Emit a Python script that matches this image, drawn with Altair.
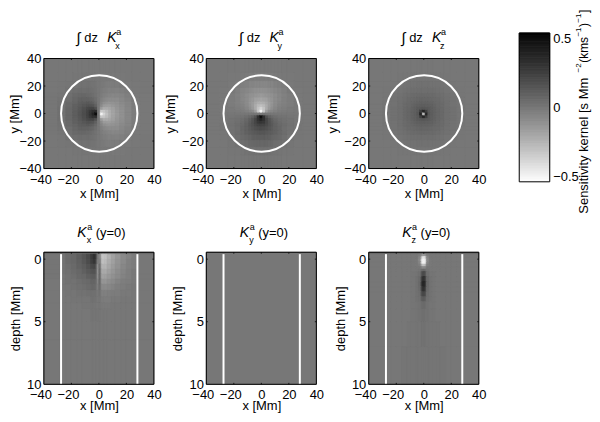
import altair as alt
import numpy as np
import pandas as pd

FONT = "Liberation Sans"
X_TICKS = [-40, -20, 0, 20, 40]
Y_TICKS = [-40, -20, 0, 20, 40]
D_TICKS = [0, 5, 10]
XDOM = [-40, 40]
DDOM = [10, -0.55]
CDOM = [-0.54, 0.54]

# cell edges of the map panels, Mm
EDGES = [-40, -30, -24, -19, -15, -12, -9, -7, -5, -3, -1, 1, 3, 5, 7, 9, 12, 15, 19, 24, 30, 40]

# one quadrant of the horizontal/vertical map, hundredths; rows outward from the axis
QUAD = [
    [0, 50, 38, 30, 24, 19, 14.5, 11, 7, 2.5, .5],
    [0, 33, 32, 28, 23, 18, 14, 11, 7, 2.5, .5],
    [0, 16, 22, 22, 20, 17, 13, 10, 7, 2.5, .5],
    [0, 9, 15, 16, 16, 14, 12, 9.5, 6, 2, .5],
    [0, 6, 10, 12, 13, 12, 11, 8, 6, 2, .5],
    [0, 4, 6.5, 8, 9, 9, 9, 7, 4.5, 1.5, .5],
    [0, 2, 4, 5, 6, 7, 6.5, 5.5, 3.5, 1, .5],
    [0, 1.5, 2.5, 3.5, 4.5, 4, 4.5, 3.5, 2, .5, 0],
    [0, 1, 1.5, 2, 2.5, 2, 2, 1, .7, .3, 0],
    [0, .3, .5, .6, .7, .7, .5, .3, 0, 0, 0],
    [0, 0, 0, 0, 0, 0, 0, 0, 0, 0, 0],
]
# one quadrant of the vertical-component map
ZQUAD = [
    [-28, 38, 14, 11, 9, 7.5, 6, 4, 2.5, 1, 0],
    [38, 25, 13, 10.5, 9, 7.5, 6, 4, 2.5, 1, 0],
    [14, 13, 12, 10, 8.5, 7, 5.5, 4, 2.5, 1, 0],
    [11, 10.5, 10, 9, 8, 6.5, 5, 3.5, 2, 1, 0],
    [9, 9, 8.5, 8, 7, 6, 5, 3.5, 2, 1, 0],
    [7.5, 7.5, 7, 6.5, 6, 5.5, 4.5, 3, 2, .5, 0],
    [6, 6, 5.5, 5, 5, 4.5, 3.5, 2.5, 1.5, .5, 0],
    [4, 4, 4, 3.5, 3.5, 3, 2.5, 1.5, 1, .3, 0],
    [2.5, 2.5, 2.5, 2, 2, 2, 1.5, 1, .5, 0, 0],
    [1, 1, 1, 1, 1, .5, .5, .3, 0, 0, 0],
    [0, 0, 0, 0, 0, 0, 0, 0, 0, 0, 0],
]

# depth slices at y=0
SX_EDGES = [-40, -28, -24, -20, -16, -12, -9, -6, -4, -2, -1, 0, 1, 2, 4, 6, 9, 12, 16, 20, 24, 28, 40]
SX_DEPTH = [-0.55, -0.4, 0, .4, .8, 1.2, 1.6, 2, 2.5, 3, 3.5, 4, 5, 6.5, 10]
SX_ROWS = [
    [8] * 22,
    [1, 2, 5, 7, 11, 15, 20, 27, 33, 14, 0, -5, -12, -32, -30, -24, -18, -13, -8, -5, -2, 0],
    [1, 2, 5, 7, 10, 14, 19, 25, 30, 11, -3, -3, -8, -30, -28, -22, -17, -12, -8, -4, -2, 0],
    [1, 2, 4, 6, 9, 12, 16, 20, 22, 4, -10, 5, -5, -25, -25, -20, -15, -11, -7, -4, -2, 0],
    [1, 2, 3, 5, 7, 10, 13, 15, 16, 3, -12, 8, -3, -21, -21, -17, -13, -9, -6, -3, -1, 0],
    [1, 1, 2, 4, 6, 7, 10, 11, 12, 2, -10, 8, -2, -18, -17, -14, -11, -8, -5, -3, -1, 0],
    [0, 1, 2, 2, 4, 5, 6, 8, 8, 2, -7, 8, -1, -13, -13, -10, -8, -5, -3, -2, -1, 0],
    [0, 1, 1, 2, 3, 4, 5, 6, 6, 1, -3, 5, 0, -8, -8, -7, -5, -3, -2, -1, 0, 0],
    [0, 0, 1, 1, 2, 2, 3, 3, 3, 1, 0, 2, 0, -4, -4, -3, -2, -2, -1, -1, 0, 0],
    [0, 0, 0, 1, 1, 1, 1, 2, 2, 1, 0, 1, 0, -2, -2, -2, -1, -1, 0, 0, 0, 0],
    [0, 0, 0, 0, 0, 1, 1, 1, 1, 0, 0, 1, 0, -1, -1, -1, 0, 0, 0, 0, 0, 0],
    [0, 0, 0, 0, 0, 0, 0, 1, 1, 1, 1, 1, 1, 0, 0, 0, 0, 0, 0, 0, 0, 0],
    [0] * 22,
    [0] * 22,
]
SZ_DEPTH = [-0.55, -0.4, -0.2, 0, .2, .4, .6, .8, 1, 1.4, 1.8, 2.2, 2.6, 3, 3.4, 4, 5, 7, 10]
# columns outward from x=0, mirrored
SZ_ROWS = [
    [8, 8, 8, 8, 8, 8, 8, 8, 8, 8, 8],
    [-15, -10, -2, 0, 0, 0, 0, 0, 0, 0, 0],
    [-45, -30, -6, 0, 0, 0, 0, 0, 0, 0, 0],
    [-50, -40, -8, -1, 0, 0, 0, 0, 0, 0, 0],
    [-50, -38, -6, -1, 0, 0, 0, 0, 0, 0, 0],
    [-30, -20, -3, -1, 0, 0, 0, 0, 0, 0, 0],
    [-8, -5, 0, 0, 0, 0, 0, 0, 0, 0, 0],
    [6, 4, 1, 0, 0, 0, 0, 0, 0, 0, 0],
    [20, 13, 3, 1, 1, 0, 0, 0, 0, 0, 0],
    [32, 22, 5, 2, 1, 0, 0, 0, 0, 0, 0],
    [38, 26, 6, 2, 1, 0, 0, 0, 0, 0, 0],
    [32, 22, 5, 2, 1, 0, 0, 0, 0, 0, 0],
    [22, 16, 4, 2, 1, 0, 0, 0, 0, 0, 0],
    [12, 9, 3, 2, 1, 0, 0, 0, 0, 0, 0],
    [5, 4, 2, 1, 1, 0, 0, 0, 0, 0, 0],
    [3, 2, 2, 1, 1, 0, 0, 0, 0, 0, 0],
    [2, 2, 1, 1, 1, 1, 0, 0, 0, 0, 0],
    [1, 1, 1, 1, 1, 1, 1, 0, 0, 0, 0],
]
CB_EDGES = [round(-0.54 + 0.02 * i, 2) for i in range(55)]


def map_cells(kind):
    out = []
    for i in range(21):
        for j in range(21):
            a, b = abs(i - 10), abs(j - 10)
            if kind == "x":
                v = QUAD[b][a] * (1 if i < 10 else -1)
            elif kind == "y":
                v = QUAD[a][b] * (1 if j < 10 else -1)
            else:
                v = ZQUAD[b][a]
            out.append(dict(x=EDGES[i], x2=EDGES[i + 1], y=EDGES[j], y2=EDGES[j + 1], v=v / 100))
    return pd.DataFrame(out)


def slice_cells(rows, depth):
    out = []
    for r, row in enumerate(rows):
        full = list(row) if len(row) == 22 else list(row[::-1]) + list(row)
        for i, v in enumerate(full):
            out.append(dict(x=SX_EDGES[i], x2=SX_EDGES[i + 1], y=depth[r], y2=depth[r + 1], v=v / 100))
    return pd.DataFrame(out)


ONE = pd.DataFrame({"a": [0]})
CSCALE = alt.Scale(domain=CDOM, range=["#ffffff", "#000000"])
NEG_SHIFT = {"condition": {"test": "datum.value<0", "value": -3.5}, "value": 0}


def txt(s, x, y, size=13, style="normal", angle=0):
    return alt.Chart(ONE).mark_text(
        text=s, font=FONT, fontSize=size, fontStyle=style, align="left",
        baseline="alphabetic", angle=angle, color="black",
    ).encode(x=alt.value(x), y=alt.value(y))


def panel(df, ydom, yticks, ytitle, xlab_pad=5, xt_pad=1, tpad=4, extra=()):
    xs = alt.Scale(domain=XDOM, nice=False, zero=False)
    ys = alt.Scale(domain=ydom, nice=False, zero=False)
    xm = alt.X("x:Q", scale=xs, axis=alt.Axis(
        values=X_TICKS, title="x [Mm]", grid=False, ticks=False, domain=False,
        labelPadding=xlab_pad, titlePadding=xt_pad, labelOffset=NEG_SHIFT, labelFlush=False, labelOverlap=False))
    ym = alt.Y("y:Q", scale=ys, axis=alt.Axis(
        values=yticks, title=ytitle, grid=False, ticks=False, domain=False,
        labelPadding=3, titlePadding=tpad, labelFlush=False, labelOverlap=False))
    ground = alt.Chart(pd.DataFrame({"x": [XDOM[0]], "x2": [XDOM[1]], "y": [ydom[0]], "y2": [ydom[1]], "v": [0.0]})).mark_rect().encode(
        x=xm, x2="x2:Q", y=ym, y2="y2:Q", color=alt.Color("v:Q", scale=CSCALE, legend=None))
    base = alt.Chart(df).mark_rect(strokeWidth=0.8).encode(
        x=xm, x2="x2:Q", y=ym, y2="y2:Q",
        color=alt.Color("v:Q", scale=CSCALE, legend=None),
        stroke=alt.Stroke("v:Q", scale=CSCALE, legend=None),
    )
    ylo, yhi = ydom[0], ydom[1]
    tx = 1.1
    ty = abs(yhi - ylo) / 110 * 1.5 if abs(yhi - ylo) > 20 else 0.116
    sgn = 1 if yhi > ylo else -1
    vt = pd.DataFrame(
        [dict(x=t, y=ylo, y2=ylo + sgn * ty) for t in X_TICKS[1:-1]]
        + [dict(x=t, y=yhi, y2=yhi - sgn * ty) for t in X_TICKS[1:-1]])
    yin = [t for t in yticks if min(ydom) < t < max(ydom)]
    ht = pd.DataFrame(
        [dict(y=t, x=-40, x2=-40 + tx) for t in yin] + [dict(y=t, x=40, x2=40 - tx) for t in yin])
    t1 = alt.Chart(vt).mark_rule(color="black", strokeWidth=0.8).encode(x=xm, y=ym, y2="y2:Q")
    t2 = alt.Chart(ht).mark_rule(color="black", strokeWidth=0.8).encode(x=xm, x2="x2:Q", y=ym)
    frame = alt.Chart(pd.DataFrame({"x": [XDOM[0]], "x2": [XDOM[1]], "y": [ydom[0]], "y2": [ydom[1]]})).mark_rect(
        fillOpacity=0, stroke="black", strokeWidth=1).encode(x=xm, x2="x2:Q", y=ym, y2="y2:Q")
    ring_layers = []
    for e in extra:
        if e == "circle":
            ring_layers.append(alt.Chart(pd.DataFrame({"x": [0.25], "y": [0]})).mark_point(
                filled=False, stroke="white", strokeWidth=2, size=5868, opacity=1).encode(x=xm, y=ym))
        else:
            ring_layers.append(alt.Chart(pd.DataFrame({"x": [-27.5, 28], "y": [-0.4, -0.4], "y2": [10, 10]})).mark_rule(
                color="white", strokeWidth=2).encode(x=xm, y=ym, y2="y2:Q"))
    return [ground, base] + ring_layers + [t1, t2, frame]


def top_title(sub):
    return [txt("\u222b", 32.5, -16, 15), txt("dz", 40.5, -16.6, 13), txt("K", 63.5, -16.6, 14, "italic"),
            txt("a", 72.5, -23.3, 9), txt(sub, 71.5, -9.8, 9)]


def bot_title(sub):
    return [txt("K", 33.5, -15, 14, "italic"), txt("a", 43.5, -22.7, 9), txt(sub, 43, -9.7, 9),
            txt("(y=0)", 52, -15, 13)]


TOP_H = 110.4
BOT_H = 132.5


def finish(layers, title, h):
    return alt.layer(*layers, *title).properties(width=110.4, height=h)


p1 = panel(map_cells("x"), XDOM, Y_TICKS, "y [Mm]", tpad=-2.5, extra=("circle",))
p2 = panel(map_cells("y"), XDOM, Y_TICKS, "y [Mm]", extra=("circle",))
p3 = panel(map_cells("z"), XDOM, Y_TICKS, "y [Mm]", extra=("circle",))
p4 = panel(slice_cells(SX_ROWS, SX_DEPTH), DDOM, D_TICKS, "depth [Mm]", xlab_pad=4, xt_pad=-1.5, extra=("lines",))
p5 = panel(pd.DataFrame({"x": [-40], "x2": [40], "y": [-0.55], "y2": [10], "v": [0.0]}), DDOM, D_TICKS, "depth [Mm]", xlab_pad=4, xt_pad=-1.5, extra=("lines",))
p6 = panel(slice_cells(SZ_ROWS, SZ_DEPTH), DDOM, D_TICKS, "depth [Mm]", xlab_pad=4, xt_pad=-1.5, extra=("lines",))

# colour bar: drawn in a narrow fourth column, its scales reaching past that column
cb_df = pd.DataFrame({
    "x": [0] * 54, "x2": [1] * 54, "y": CB_EDGES[:-1], "y2": CB_EDGES[1:],
    "v": [round((CB_EDGES[i] + CB_EDGES[i + 1]) / 2, 3) for i in range(54)],
})
cbx = alt.X("x:Q", scale=alt.Scale(domain=[0, 1], range=[-12, 18.6]), axis=None)
cby = alt.Y("y:Q", scale=alt.Scale(domain=CDOM, range=[123.7, -25.6], nice=False, zero=False), axis=alt.Axis(
    orient="right", values=[-0.5, 0, 0.5], format="~g", title=None, grid=False, ticks=False, domain=False,
    labelPadding=3, labelFlush=False, labelOverlap=False))
cb_bar = alt.Chart(cb_df).mark_rect(strokeWidth=0.8).encode(
    x=cbx, x2="x2:Q", y=cby, y2="y2:Q",
    color=alt.Color("v:Q", scale=CSCALE, legend=None),
    stroke=alt.Stroke("v:Q", scale=CSCALE, legend=None),
)
cb_frame = alt.Chart(pd.DataFrame({"x": [0], "x2": [1], "y": [CDOM[0]], "y2": [CDOM[1]]})).mark_rect(
    fillOpacity=0, stroke="black", strokeWidth=1).encode(x=cbx, x2="x2:Q", y=cby, y2="y2:Q")
BX, SX = 57.3, 50
cb_text = [
    txt("Sensitivity kernel [s Mm", BX, 155.7, 13, angle=270),
    txt("\u22122", SX, 14.0, 8, angle=270),
    txt("(kms", BX, 4.3, 12, angle=270),
    txt("\u22121", SX, -22, 8, angle=270),
    txt(")", BX, -31.7, 12, angle=270),
    txt("\u22121", SX, -36, 8, angle=270),
    txt("]", BX, -45.7, 12, angle=270),
]
cb = alt.layer(cb_bar, cb_frame, *cb_text).properties(width=18.6, height=TOP_H)

chart = alt.concat(
    finish(p1, top_title("x"), TOP_H), finish(p2, top_title("y"), TOP_H), finish(p3, top_title("z"), TOP_H), cb,
    finish(p4, bot_title("x"), BOT_H), finish(p5, bot_title("y"), BOT_H), finish(p6, bot_title("z"), BOT_H),
    columns=4, spacing=alt.RowColnumber(row=83.4, column=52), bounds="flush",
    padding={"left": 0, "top": 0, "right": 0, "bottom": 0},
).configure_view(stroke=None).configure_axis(
    labelFont=FONT, titleFont=FONT, labelFontSize=13, titleFontSize=13, titleFontWeight="normal", labelColor="black", titleColor="black"
).properties(background="white")

chart.save("out.html", embed_options={"renderer": "svg", "actions": False})
